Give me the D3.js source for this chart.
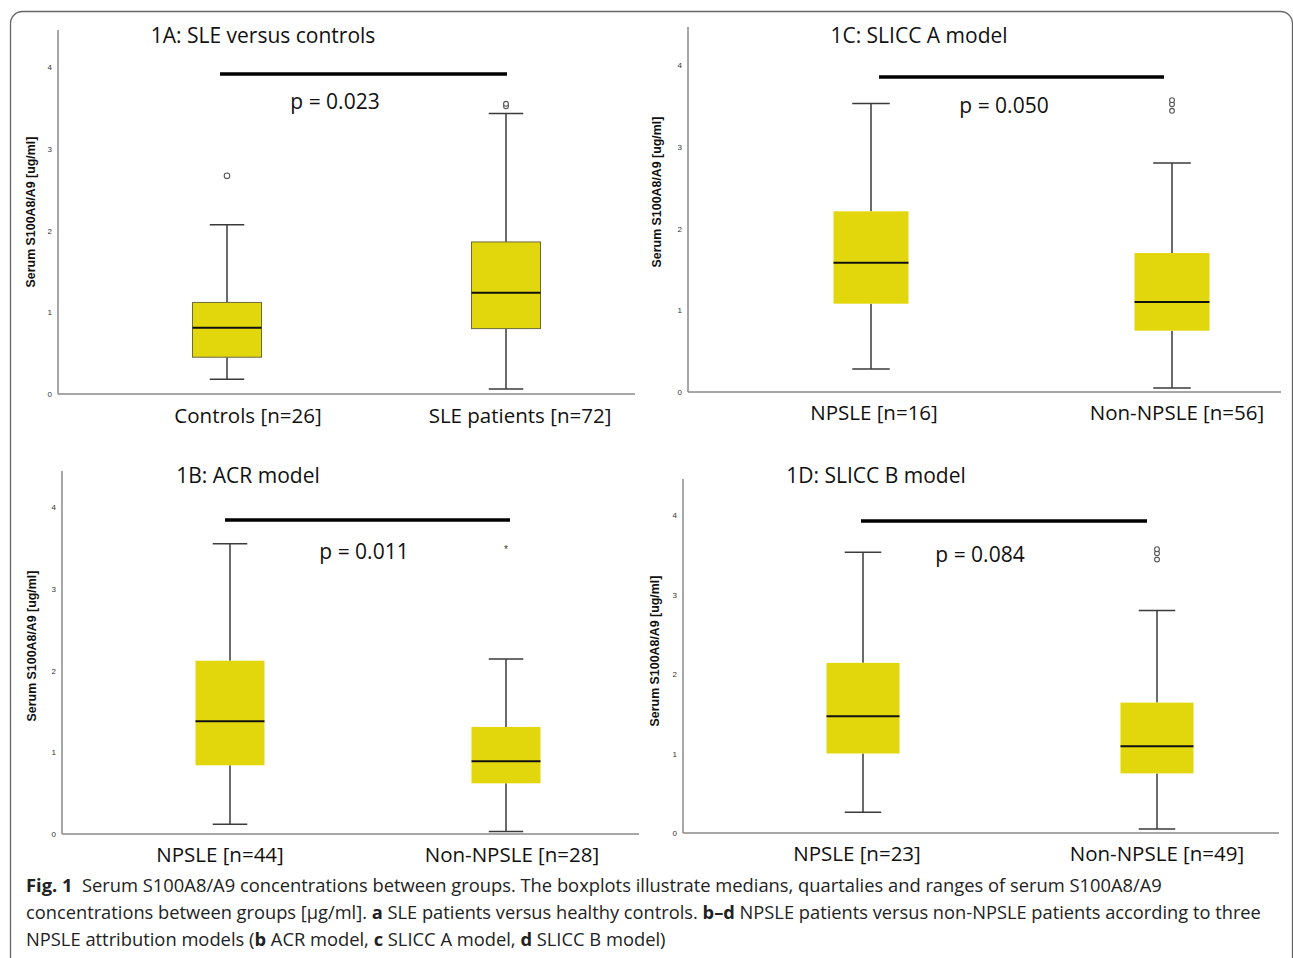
<!DOCTYPE html>
<html>
<head>
<meta charset="utf-8">
<script src="https://cdn.jsdelivr.net/npm/d3@7"></script>
<style>
  body { margin: 0; background: #fff; }
  svg { display: block; }
</style>
</head>
<body>
<svg id="fig" width="1293" height="958"></svg>
<script>
// ---- data ----
const panelTitles = ["1A: SLE versus controls", "1B: ACR model", "1C: SLICC A model", "1D: SLICC B model"];
const pLabels = ["p = 0.023", "p = 0.011", "p = 0.050", "p = 0.084"];
const groups = [
    ["Controls [n=26]", "SLE patients [n=72]"],
    ["NPSLE [n=44]", "Non-NPSLE [n=28]"],
    ["NPSLE [n=16]", "Non-NPSLE [n=56]"],
    ["NPSLE [n=23]", "Non-NPSLE [n=49]"]
];
const lowWhisker  = [[0.18, 0.06], [0.12, 0.03], [0.28, 0.05], [0.26, 0.05]];
const q1          = [[0.45, 0.80], [0.84, 0.62], [1.08, 0.75], [1.00, 0.75]];
const medians     = [[0.81, 1.24], [1.38, 0.89], [1.58, 1.10], [1.47, 1.09]];
const q3          = [[1.12, 1.86], [2.12, 1.31], [2.21, 1.70], [2.14, 1.64]];
const highWhisker = [[2.07, 3.43], [3.55, 2.14], [3.53, 2.80], [3.53, 2.80]];
const outliers    = [[[2.67], [3.52, 3.55]], [[], []], [[], [3.44, 3.52, 3.57]], [[], [3.44, 3.52, 3.57]]];
const extremes    = [[[], []], [[], [3.50]], [[], []], [[], []]];
const yTicks = [0, 1, 2, 3, 4];
const yTitle = "Serum S100A8/A9 [ug/ml]";

// ---- layout of the four panels (pixels) ----
const layout = [
    {ax: 58,  y0: 394, y4: 67,  top: 30,  xEnd: 635,  c: [227, 506],  bw: 69, lab: [248, 520],  labY: 423,
     tX: 263, tY: 43,  bar: [220, 507], barY: 74,  pX: 335,  pY: 109, ytX: 35,  ytY: 212, outline: true},
    {ax: 62,  y0: 834, y4: 507, top: 471, xEnd: 639,  c: [230, 506],  bw: 69, lab: [220, 512],  labY: 862,
     tX: 248, tY: 483, bar: [225, 510], barY: 520, pX: 364,  pY: 559, ytX: 36,  ytY: 646},
    {ax: 688, y0: 392, y4: 65,  top: 27,  xEnd: 1281, c: [871, 1172], bw: 75, lab: [874, 1177], labY: 420,
     tX: 919, tY: 43,  bar: [879, 1164], barY: 77, pX: 1004, pY: 113, ytX: 661, ytY: 192},
    {ax: 683, y0: 833, y4: 515, top: 479, xEnd: 1279, c: [863, 1157], bw: 73, lab: [857, 1157], labY: 861,
     tX: 876, tY: 483, bar: [861, 1147], barY: 521, pX: 980,  pY: 562, ytX: 659, ytY: 651}
];

const boxFill = "#e2d70d";
const svg = d3.select("#fig");

// frame round the whole figure
svg.append("rect")
    .attr("x", 10.5).attr("y", 11.5).attr("width", 1282).attr("height", 1000).attr("rx", 12)
    .style("fill", "none").style("stroke", "#666").style("stroke-width", 1.3);

layout.forEach(function(L, i) {
    const g = svg.append("g").attr("class", "panel");
    const y = d3.scaleLinear().domain([0, 4]).range([L.y0, L.y4]);
    const x = d3.scalePoint().domain(groups[i]).range(L.c);

    // axes
    const yAxis = d3.axisLeft(y).tickValues(yTicks).tickSize(0).tickPadding(6).tickFormat(d3.format("d"));
    g.append("g").attr("transform", `translate(${L.ax},0)`).call(yAxis)
        .call(a => a.select(".domain").remove())
        .selectAll("text").style("font-family", "Liberation Sans, Arial, sans-serif")
        .style("font-size", "8px").style("fill", "#333");
    g.append("line").attr("x1", L.ax).attr("x2", L.ax).attr("y1", L.top).attr("y2", y(0))
        .style("stroke", "#8a8a8a").style("stroke-width", 1.5);
    g.append("line").attr("x1", L.ax).attr("x2", L.xEnd).attr("y1", y(0)).attr("y2", y(0))
        .style("stroke", "#8a8a8a").style("stroke-width", 1.5);

    g.append("text")
        .attr("transform", `translate(${L.ytX},${L.ytY}) rotate(-90)`)
        .attr("text-anchor", "middle")
        .style("font-family", "Liberation Sans, Arial, sans-serif").style("font-weight", "bold")
        .style("font-size", "12.4px").style("fill", "#111")
        .text(yTitle);

    // boxes
    groups[i].forEach(function(cat, j) {
        const cx = x(cat), hw = L.bw / 2;
        const wStroke = "#3a3a3a";
        g.append("line").attr("x1", cx).attr("x2", cx).attr("y1", y(highWhisker[i][j])).attr("y2", y(q3[i][j]))
            .style("stroke", wStroke).style("stroke-width", 1.5);
        g.append("line").attr("x1", cx).attr("x2", cx).attr("y1", y(q1[i][j])).attr("y2", y(lowWhisker[i][j]))
            .style("stroke", wStroke).style("stroke-width", 1.5);
        [highWhisker[i][j], lowWhisker[i][j]].forEach(v => {
            g.append("line").attr("x1", cx - hw / 2).attr("x2", cx + hw / 2).attr("y1", y(v)).attr("y2", y(v))
                .style("stroke", wStroke).style("stroke-width", 1.5);
        });
        g.append("rect")
            .attr("x", cx - hw).attr("width", L.bw)
            .attr("y", y(q3[i][j])).attr("height", y(q1[i][j]) - y(q3[i][j]))
            .style("fill", boxFill)
            .style("stroke", L.outline ? "#6b6b40" : "none").style("stroke-width", 1);
        g.append("line").attr("x1", cx - hw).attr("x2", cx + hw).attr("y1", y(medians[i][j])).attr("y2", y(medians[i][j]))
            .style("stroke", "#111").style("stroke-width", 2);

        outliers[i][j].forEach(v => {
            g.append("circle").attr("cx", cx).attr("cy", y(v)).attr("r", outliers[i][j].length > 1 ? 2.4 : 2.8)
                .style("fill", "#fff").style("stroke", "#555").style("stroke-width", 1.1);
        });
        extremes[i][j].forEach(v => {
            g.append("text").attr("x", cx).attr("y", y(v) + 5).attr("text-anchor", "middle")
                .style("font-family", "Liberation Sans, Arial, sans-serif").style("font-size", "10px")
                .style("fill", "#333").text("*");
        });

        g.append("text").attr("x", L.lab[j]).attr("y", L.labY).attr("text-anchor", "middle")
            .style("font-family", "Open Sans, sans-serif").style("font-size", "20.5px").style("fill", "#111")
            .text(cat);
    });

    // title, significance bar, p value
    g.append("text").attr("x", L.tX).attr("y", L.tY).attr("text-anchor", "middle")
        .style("font-family", "Open Sans, sans-serif").style("font-size", "21px").style("fill", "#111")
        .text(panelTitles[i]);
    g.append("line").attr("x1", L.bar[0]).attr("x2", L.bar[1]).attr("y1", L.barY).attr("y2", L.barY)
        .style("stroke", "#000").style("stroke-width", 3.5);
    g.append("text").attr("x", L.pX).attr("y", L.pY).attr("text-anchor", "middle")
        .style("font-family", "Open Sans, sans-serif").style("font-size", "21px").style("fill", "#111")
        .text(pLabels[i]);
});

// caption, three lines squeezed to the widths of the original
const captionLines = [
    [["Fig. 1", true], ["  Serum S100A8/A9 concentrations between groups. The boxplots illustrate medians, quartalies and ranges of serum S100A8/A9", false]],
    [["concentrations between groups [\u00b5g/ml]. ", false], ["a", true], [" SLE patients versus healthy controls. ", false], ["b\u2013d", true], [" NPSLE patients versus non-NPSLE patients according to three", false]],
    [["NPSLE attribution models (", false], ["b", true], [" ACR model, ", false], ["c", true], [" SLICC A model, ", false], ["d", true], [" SLICC B model)", false]]
];
const captionWidths = [1137, 1236, 640];
const captionY = [892, 919, 946];

captionLines.forEach(function(parts, k) {
    const t = svg.append("text")
        .style("font-family", "Open Sans, sans-serif").style("font-size", "18.5px").style("fill", "#222")
        .attr("xml:space", "preserve");
    parts.forEach(p => {
        t.append("tspan").style("font-weight", p[1] ? "bold" : "normal").text(p[0]);
    });
    const w = t.node().getComputedTextLength();
    const sx = captionWidths[k] / w;
    t.attr("transform", `translate(26,${captionY[k]}) scale(${sx},1)`);
});
</script>
</body>
</html>
